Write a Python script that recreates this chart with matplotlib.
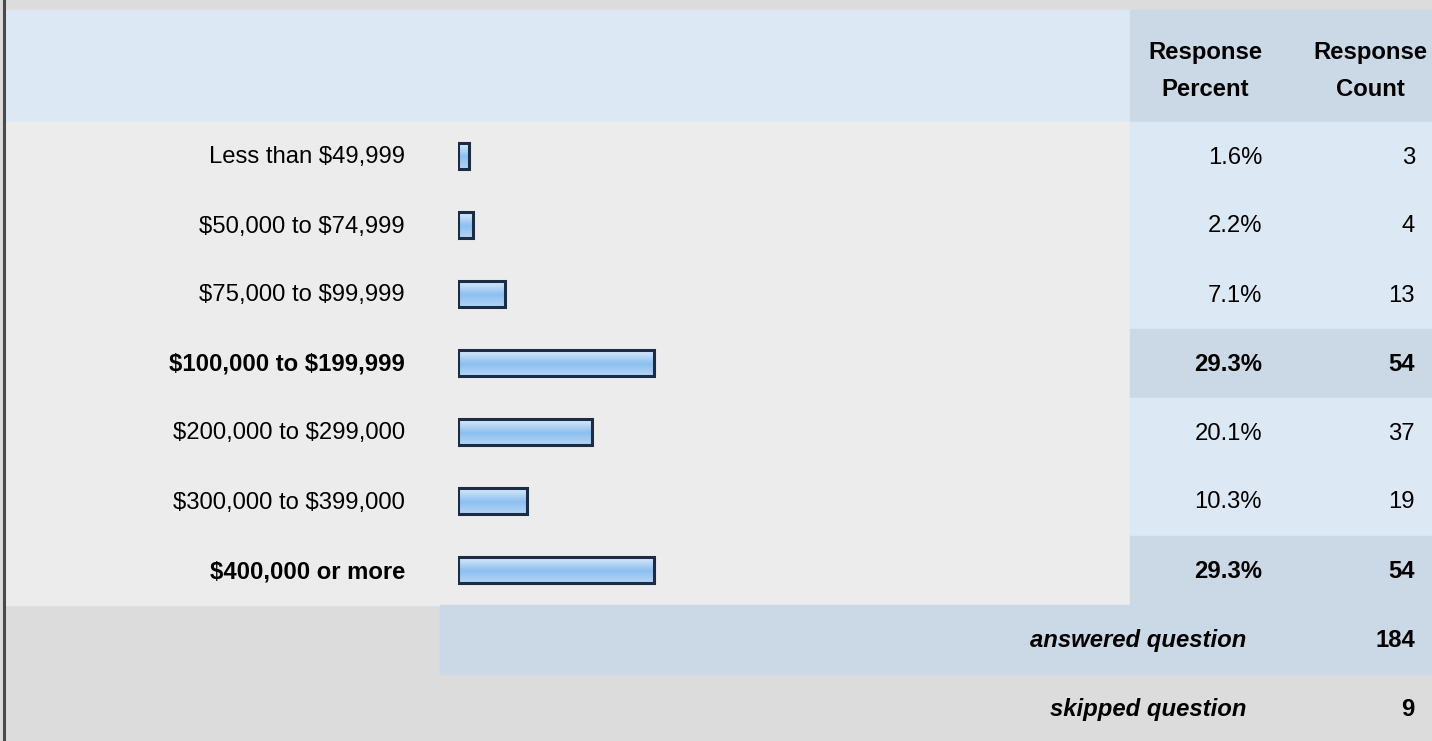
import matplotlib.pyplot as plt
import numpy as np
from matplotlib.patches import Rectangle
from matplotlib.colors import LinearSegmentedColormap

plt.rcParams['font.family'] = ['Liberation Sans', 'DejaVu Sans']

# donnees du tableau
categories = ["Less than $49,999", "$50,000 to $74,999", "$75,000 to $99,999",
              "$100,000 to $199,999", "$200,000 to $299,000", "$300,000 to $399,000",
              "$400,000 or more"]
percents = [1.6, 2.2, 7.1, 29.3, 20.1, 10.3, 29.3]
counts = [3, 4, 13, 54, 37, 19, 54]
bold_rows = [3, 6]
answered = 184
skipped = 9

W, H = 1432, 741
fig = plt.figure(figsize=(W / 100, H / 100), dpi=100)
ax = fig.add_axes([0, 0, 1, 1])
ax.set_xlim(0, W)
ax.set_ylim(H, 0)
ax.axis("off")

gray_out = "#dcdcdc"
gray_in = "#ececec"
blue_l = "#dde8f5"
blue_d = "#cbd8e6"

row_h = 69
top = 121.5
split = 1130

# fonds
ax.add_patch(Rectangle((0, 0), W, H, color=gray_out, zorder=0))
ax.add_patch(Rectangle((5, 10), split - 5, top - 10, color=blue_l, zorder=1))
ax.add_patch(Rectangle((split, 10), W - split, top - 10, color=blue_d, zorder=1))
ax.add_patch(Rectangle((5, top), split - 5, row_h * 7, color=gray_in, zorder=1))
for i in range(len(categories)):
    c = blue_d if i in bold_rows else blue_l
    ax.add_patch(Rectangle((split, top + i * row_h), W - split, row_h, color=c, zorder=1))
foot = top + row_h * 7
ax.add_patch(Rectangle((440, foot), W - 440, row_h, color=blue_d, zorder=1))
ax.plot([4, 4], [0, H], color="#4a4a4a", lw=2.2, zorder=5)

fs = 17.2
# entetes
ax.text(1205, 53, "Response", ha="center", va="center", fontsize=fs, fontweight="bold", zorder=6)
ax.text(1205, 89, "Percent", ha="center", va="center", fontsize=fs, fontweight="bold", zorder=6)
ax.text(1370, 53, "Response", ha="center", va="center", fontsize=fs, fontweight="bold", zorder=6)
ax.text(1370, 89, "Count", ha="center", va="center", fontsize=fs, fontweight="bold", zorder=6)

for i, (cat, p, n) in enumerate(zip(categories, percents, counts)):
    y = top + (i + 0.5) * row_h + 1.5
    fw = "bold" if i in bold_rows else "normal"
    ax.text(405, y, cat, ha="right", va="center", fontsize=fs, fontweight=fw, zorder=6,
            parse_math=False)
    ax.text(1262, y, f"{p:.1f}%", ha="right", va="center", fontsize=fs, fontweight=fw, zorder=6)
    ax.text(1415, y, str(n), ha="right", va="center", fontsize=fs, fontweight=fw, zorder=6)

ax.text(1246, foot + row_h / 2 + 1.5, "answered question", ha="right", va="center", fontsize=fs,
        fontweight="bold", style="italic", zorder=6)
ax.text(1415, foot + row_h / 2 + 1.5, str(answered), ha="right", va="center", fontsize=fs,
        fontweight="bold", zorder=6)
ax.text(1246, foot + row_h * 1.5 + 1.5, "skipped question", ha="right", va="center", fontsize=fs,
        fontweight="bold", style="italic", zorder=6)
ax.text(1415, foot + row_h * 1.5 + 1.5, str(skipped), ha="right", va="center", fontsize=fs,
        fontweight="bold", zorder=6)

# barres
bx0, bw = 458, 669
bax = fig.add_axes([bx0 / W, 1 - (top + 7 * row_h) / H, bw / W, 7 * row_h / H])
bax.set_xlim(0, 100)
bax.set_ylim(6.5, -0.5)
bax.axis("off")
bh = 0.38
bars = bax.barh(range(len(percents)), percents, height=bh, color="none",
                edgecolor="#1c2c44", linewidth=2.2, zorder=3)
cmap = LinearSegmentedColormap.from_list("g", [(0, "#e0eefc"), (0.55, "#8cbff0"), (1, "#b4d6f6")])
grad = np.linspace(0, 1, 64).reshape(-1, 1)
for b in bars:
    x0, y0 = b.get_x(), b.get_y()
    im = bax.imshow(grad, cmap=cmap, aspect="auto", extent=(x0, x0 + b.get_width(), y0 + bh, y0),
                    zorder=2)
    im.set_clip_path(b)
bax.set_xlim(0, 100)
bax.set_ylim(6.5, -0.5)

fig.savefig("out.png", dpi=100)
